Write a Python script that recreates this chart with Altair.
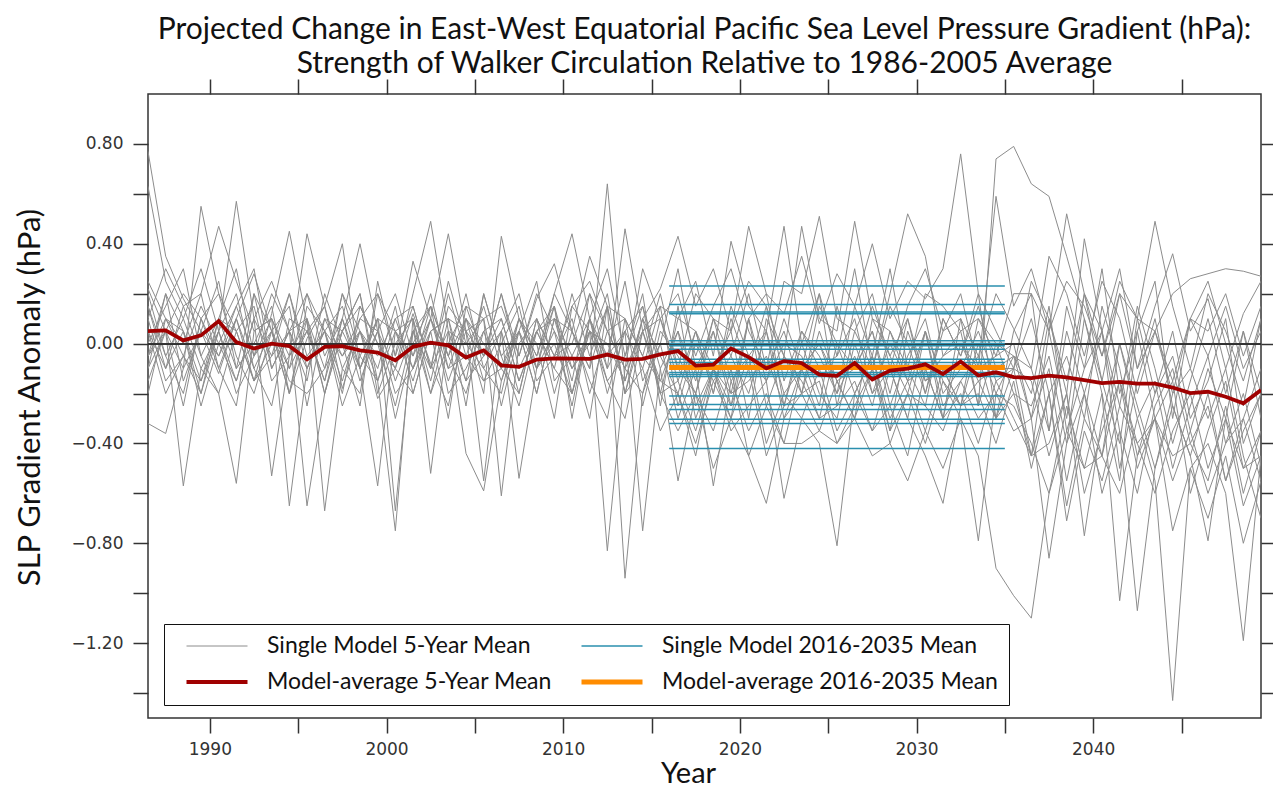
import altair as alt
import pandas as pd

FONT = "Lato"
TICK_FONT = "DejaVu Sans"

# ---------------- data ----------------
years = list(range(1986, 2050))  # 5-year running means, plotted at mid-year

model_avg = [
    0.050, 0.053, 0.013, 0.033, 0.090, 0.006, -0.020, 0.000, -0.010, -0.063,
    -0.013, -0.010, -0.027, -0.036, -0.067, -0.013, 0.004, -0.007, -0.056, -0.027,
    -0.087, -0.093, -0.064, -0.059, -0.060, -0.061, -0.044, -0.064, -0.061, -0.043,
    -0.030, -0.088, -0.084, -0.020, -0.054, -0.099, -0.070, -0.078, -0.124, -0.129,
    -0.078, -0.144, -0.108, -0.100, -0.083, -0.122, -0.072, -0.128, -0.115, -0.134,
    -0.138, -0.128, -0.135, -0.146, -0.158, -0.153, -0.160, -0.160, -0.176, -0.198,
    -0.193, -0.213, -0.239, -0.186,
]

m01 = [0.77, 0.35, 0.18, 0.05, -0.12, 0.10, 0.28, 0.05, -0.20, 0.02,
       0.15, -0.18, 0.05, -0.22, -0.10, 0.12, -0.08, -0.25, 0.10, -0.05,
       0.20, -0.05, 0.18, 0.32, 0.05, -0.10, 0.64, -0.15, 0.10, 0.22,
       0.43, 0.15, 0.30, 0.05, 0.47, 0.20, 0.12, 0.35, 0.08, 0.28,
       0.15, 0.40, 0.10, 0.25, 0.18, 0.30, 0.76, 0.20, 0.05, -0.10,
       0.25, 0.10, -0.15, 0.20, 0.05, 0.30, -0.10, 0.15, 0.36, 0.05,
       0.18, -0.10, 0.12, 0.25]
m02 = [0.63, 0.25, 0.10, 0.30, 0.05, 0.57, 0.10, -0.05, 0.20, -0.10,
       0.05, -0.20, 0.15, 0.00, -0.25, 0.05, 0.15, -0.20, -0.10, 0.05,
       -0.15, 0.10, -0.05, 0.20, 0.44, 0.10, -0.10, 0.46, 0.05, 0.15,
       0.10, 0.25, -0.05, 0.41, 0.15, 0.05, 0.47, 0.00, 0.20, -0.05,
       0.30, -0.10, 0.20, 0.52, 0.35, -0.05, 0.00, -0.10, 0.59, 0.15,
       0.30, 0.05, 0.52, 0.20, -0.05, 0.25, 0.10, 0.49, 0.15, -0.10,
       0.20, 0.05, -0.15, 0.10]
m03 = [0.22, 0.05, -0.10, 0.55, 0.20, 0.05, -0.15, 0.12, 0.45, 0.08,
       -0.20, 0.10, 0.40, 0.05, -0.10, 0.20, 0.49, 0.05, -0.15, -0.05,
       0.05, -0.20, 0.10, -0.05, 0.15, 0.25, 0.05, -0.10, 0.30, 0.10,
       0.20, -0.05, 0.15, 0.30, 0.05, -0.10, 0.25, 0.20, 0.51, 0.10,
       0.05, 0.20, -0.10, 0.15, 0.30, 0.05, 0.10, -0.05, 0.20, 0.06,
       -0.10, 0.35, 0.20, -0.05, 0.25, 0.10, -0.20, 0.05, 0.20, 0.26,
       0.28, 0.30, 0.29, 0.27]
m04 = [0.10, 0.30, 0.15, 0.20, 0.47, 0.25, 0.05, 0.10, -0.05, 0.44,
       0.15, 0.40, -0.10, 0.10, 0.05, -0.15, 0.10, 0.44, 0.05, -0.20,
       0.43, 0.10, -0.10, 0.20, 0.05, 0.35, 0.15, 0.10, -0.05, 0.20,
       -0.10, 0.20, 0.10, 0.05, 0.25, 0.15, -0.05, 0.47, 0.10, 0.05,
       0.49, 0.10, 0.05, -0.10, 0.20, 0.15, 0.05, 0.10, -0.05, 0.20,
       0.20, 0.05, 0.25, 0.15, -0.05, 0.20, 0.10, 0.05, -0.15, 0.10,
       0.05, 0.20, -0.05, 0.15]
m05 = [-0.05, 0.20, -0.15, 0.05, 0.25, -0.10, 0.00, 0.15, -0.20, 0.10,
       -0.10, 0.05, 0.20, -0.15, 0.05, 0.10, -0.20, 0.00, 0.15, -0.05,
       0.10, -0.15, 0.05, -0.10, 0.20, -0.05, 0.15, -0.20, 0.05, 0.10,
       -0.15, 0.05, -0.20, 0.10, -0.10, 0.15, -0.25, 0.05, -0.10, -0.05,
       0.10, -0.20, 0.00, -0.15, 0.05, -0.30, 0.10, -0.25, 0.74, 0.79,
       0.64, 0.59, 0.35, 0.10, -0.15, 0.20, -0.10, 0.05, -0.20, 0.10,
       -0.05, 0.15, -0.10, 0.05]
m06 = [0.15, -0.10, 0.05, -0.20, 0.10, 0.30, -0.05, 0.20, 0.05, -0.15,
       0.20, 0.00, -0.25, 0.25, -0.05, 0.33, 0.10, -0.10, -0.05, 0.15,
       -0.10, 0.05, 0.25, -0.15, -0.05, 0.10, 0.30, -0.05, 0.15, -0.10,
       0.05, -0.15, 0.10, -0.05, 0.20, -0.10, 0.05, -0.20, 0.15, 0.00,
       -0.10, 0.15, -0.05, 0.10, -0.20, 0.05, 0.20, -0.10, -0.05, 0.00,
       -0.30, 0.10, -0.20, 0.42, 0.05, -0.25, 0.15, -0.10, -0.40, -0.15,
       0.10, -0.20, 0.05, -0.30]
m07 = [-0.10, 0.05, 0.20, 0.10, -0.05, 0.15, 0.30, -0.10, 0.05, 0.20,
       -0.05, 0.10, -0.15, 0.05, -0.30, 0.00, 0.15, -0.05, 0.20, -0.10,
       0.05, 0.20, -0.10, 0.15, -0.20, 0.05, -0.05, 0.25, -0.15, 0.00,
       0.30, -0.10, 0.05, -0.25, 0.10, 0.20, -0.15, 0.05, -0.05, -0.20,
       0.15, -0.05, 0.30, -0.10, -0.25, 0.10, -0.05, 0.20, -0.30, 0.05,
       0.20, -0.35, 0.15, -0.10, 0.30, -0.20, 0.05, 0.25, -0.30, 0.10,
       0.25, 0.00, -0.25, 0.10]
m08 = [0.05, -0.20, -0.05, 0.15, 0.00, -0.15, 0.10, 0.25, 0.05, -0.10,
       0.10, -0.05, 0.05, -0.10, 0.15, -0.20, 0.05, 0.10, -0.15, 0.20,
       -0.05, -0.25, 0.05, 0.10, -0.15, 0.20, -0.10, 0.05, 0.15, -0.20,
       0.10, 0.05, -0.20, 0.15, -0.05, -0.15, 0.10, -0.10, 0.20, -0.25,
       0.05, -0.10, 0.15, 0.00, -0.20, 0.10, -0.05, 0.15, -0.10, -0.10,
       -0.45, 0.05, -0.30, 0.20, -0.15, -0.40, 0.10, -0.20, -0.05, -0.35,
       -0.10, -0.30, 0.05, -0.20]
m09 = [-0.32, -0.36, -0.10, 0.05, -0.05, 0.10, -0.15, 0.00, 0.20, -0.05,
       0.05, 0.15, -0.10, 0.05, 0.20, -0.05, 0.10, -0.15, 0.05, 0.10,
       0.15, -0.05, 0.20, 0.05, -0.10, 0.00, 0.20, -0.20, 0.10, -0.05,
       -0.20, 0.05, -0.10, -0.30, 0.10, -0.15, 0.00, -0.05, -0.25, 0.15,
       -0.10, 0.05, -0.20, 0.10, -0.15, -0.05, 0.05, -0.25, 0.00, -0.05,
       -0.20, 0.15, -0.35, -0.10, 0.05, -0.50, -0.15, 0.10, -0.25, -0.45,
       -0.20, -0.55, -0.30, -0.10]
m10 = [0.25, 0.10, -0.05, -0.15, 0.05, -0.20, -0.05, 0.10, -0.10, 0.05,
       -0.15, 0.20, 0.05, -0.05, 0.10, 0.15, -0.10, 0.20, -0.05, -0.15,
       0.00, 0.15, -0.15, -0.05, 0.10, -0.20, 0.05, 0.10, -0.25, 0.05,
       -0.05, -0.20, 0.10, -0.15, -0.05, 0.05, -0.20, -0.10, 0.00, -0.15,
       -0.10, 0.05, -0.25, -0.05, 0.10, -0.20, -0.10, 0.05, -0.15, -0.10,
       0.10, -0.20, -0.05, -0.30, 0.15, -0.10, -0.45, -0.20, 0.05, -0.30,
       -0.15, 0.10, -0.40, -0.20]
m11 = [0.00, 0.15, 0.30, -0.05, 0.10, -0.10, 0.20, 0.05, -0.20, 0.15,
       0.05, -0.25, -0.05, 0.10, -0.15, 0.05, -0.10, 0.25, 0.00, -0.10,
       -0.20, 0.10, 0.00, -0.30, 0.15, 0.05, -0.15, -0.05, 0.20, -0.25,
       0.15, -0.25, -0.10, 0.05, -0.30, 0.10, -0.05, -0.20, 0.05, -0.15,
       -0.30, 0.10, -0.05, -0.20, 0.05, -0.15, -0.25, 0.10, 0.00, -0.20,
       -0.25, -0.05, -0.40, 0.10, -0.20, -0.55, 0.05, -0.30, -0.15, -0.60,
       -0.35, -0.15, -0.50, -0.45]
m12 = [-0.15, 0.05, -0.25, 0.10, 0.20, -0.05, -0.20, 0.05, 0.15, -0.25,
       0.10, 0.05, 0.20, -0.20, 0.00, 0.10, -0.15, 0.15, 0.05, -0.05,
       0.20, -0.10, 0.05, 0.15, -0.30, 0.10, -0.05, 0.05, -0.10, 0.15,
       -0.25, 0.00, -0.15, -0.05, -0.20, 0.05, -0.30, -0.10, 0.00, -0.20,
       -0.05, -0.25, 0.05, -0.15, -0.10, -0.30, 0.00, -0.15, -0.10, -0.05,
       -0.10, -0.35, 0.05, -0.20, -0.45, 0.00, -0.30, -0.15, -0.50, -0.25,
       -0.05, -0.40, -0.20, -0.49]
m13 = [0.20, -0.05, 0.10, -0.10, -0.20, 0.05, 0.15, -0.15, -0.05, 0.10,
       -0.20, 0.05, 0.15, 0.00, -0.10, -0.20, 0.05, 0.10, -0.25, 0.20,
       -0.05, 0.05, -0.20, 0.10, 0.05, -0.15, -0.30, 0.10, -0.05, -0.15,
       0.05, -0.30, -0.10, -0.20, 0.10, -0.25, -0.05, -0.15, -0.30, 0.00,
       -0.20, -0.05, -0.35, 0.05, -0.15, -0.10, -0.25, 0.00, -0.20, -0.05,
       -0.30, -0.10, -0.55, -0.20, 0.05, -0.35, -0.60, -0.25, -0.10, -0.40,
       -0.55, -0.25, -0.60, -0.35]
m14 = [-0.20, 0.10, 0.00, 0.20, -0.10, 0.10, -0.10, -0.25, 0.10, 0.05,
       0.15, -0.10, -0.20, 0.20, 0.05, -0.05, 0.20, -0.10, 0.10, 0.00,
       -0.10, -0.20, 0.10, -0.05, 0.00, 0.20, 0.05, -0.10, -0.20, 0.10,
       -0.10, -0.20, 0.05, -0.20, -0.15, -0.05, -0.25, 0.00, -0.20, -0.30,
       0.00, -0.20, -0.10, -0.30, 0.05, -0.25, -0.15, -0.05, -0.30, -0.10,
       -0.15, -0.45, -0.20, -0.77, -0.30, 0.00, -0.25, -0.50, -0.20, -0.10,
       -0.30, -0.10, -0.45, -0.70]
m15 = [0.10, -0.15, -0.05, -0.20, 0.05, 0.20, -0.10, 0.05, -0.15, -0.20,
       -0.10, 0.20, -0.05, -0.15, 0.10, -0.10, 0.05, -0.30, 0.15, 0.10,
       -0.25, 0.05, -0.10, 0.00, -0.20, 0.10, -0.15, -0.30, 0.05, -0.20,
       -0.15, -0.35, -0.10, -0.25, -0.05, -0.40, -0.20, -0.30, -0.10, -0.35,
       -0.20, -0.05, -0.30, -0.15, -0.35, -0.10, -0.25, -0.20, -0.40, -0.15,
       -0.50, -0.20, -0.65, -0.30, -0.45, -0.15, -0.40, -0.60, -0.35, -0.20,
       -0.50, -0.30, -0.65, -0.45]
m16 = [-0.05, 0.05, -0.57, -0.10, 0.05, -0.15, 0.10, -0.53, -0.05, 0.05,
       -0.15, 0.10, -0.10, -0.57, 0.05, -0.10, 0.15, -0.05, -0.20, 0.05,
       0.10, -0.15, 0.05, -0.10, -0.20, 0.05, -0.83, -0.10, 0.05, -0.15,
       -0.20, -0.40, -0.15, -0.30, -0.10, -0.45, -0.25, -0.20, -0.35, -0.15,
       -0.30, -0.10, -0.40, -0.20, -0.25, -0.35, -0.15, -0.30, -0.20, -0.25,
       -0.40, -0.60, -0.25, -0.50, -0.20, -1.03, -0.45, -0.30, -0.55, -0.35,
       -0.60, -0.40, -0.30, -0.55]
m17 = [0.05, -0.10, 0.15, -0.05, -0.20, -0.56, 0.05, 0.10, -0.65, -0.10,
       0.05, -0.05, 0.10, 0.20, -0.05, 0.15, -0.10, 0.05, 0.00, 0.10,
       -0.61, 0.00, 0.10, -0.20, 0.05, -0.10, 0.15, -0.94, -0.20, 0.00,
       -0.30, -0.10, -0.57, -0.15, -0.35, -0.20, -0.40, -0.10, -0.30, -0.25,
       -0.15, -0.35, -0.25, -0.45, -0.10, -0.30, -0.20, -0.40, -0.15, -0.30,
       -0.45, -0.40, -0.20, -0.60, -0.35, -0.15, -0.50, -0.30, -0.45, -0.40,
       -0.25, -0.55, -0.35, -0.20]
m18 = [-0.10, 0.20, 0.05, -0.15, 0.10, 0.05, -0.15, -0.05, 0.05, -0.65,
       -0.20, 0.05, -0.10, 0.10, -0.67, 0.05, -0.20, 0.10, 0.05, -0.55,
       0.05, -0.54, -0.10, 0.05, -0.25, 0.10, -0.20, 0.05, -0.75, -0.10,
       -0.55, -0.20, -0.35, -0.10, -0.45, -0.64, -0.30, -0.20, -0.15, -0.40,
       -0.25, -0.10, -0.35, -0.20, -0.40, -0.15, -0.30, -0.79, -0.20, -0.35,
       -0.30, -0.86, -0.40, -0.20, -0.60, -0.35, -1.07, -0.50, -0.25, -0.45,
       -0.79, -0.30, -0.50, -0.35]
m19 = [0.15, -0.05, -0.20, 0.10, -0.10, -0.25, 0.20, -0.10, 0.05, 0.10,
       -0.67, -0.10, 0.05, -0.15, -0.75, 0.10, -0.52, 0.05, -0.44, -0.59,
       -0.15, 0.05, -0.20, 0.10, -0.05, -0.30, 0.15, -0.20, -0.10, -0.35,
       -0.20, -0.45, -0.10, -0.35, -0.25, -0.15, -0.62, -0.30, -0.40, -0.81,
       -0.20, -0.35, -0.10, -0.30, -0.45, -0.64, -0.25, -0.15, -0.30, -0.20,
       -0.45, -0.20, -0.71, -0.35, -0.55, -0.25, -0.40, -0.30, -0.75, -0.50,
       -0.40, -0.60, -1.19, -0.45]
m20 = [-0.05, 0.10, 0.05, -0.25, 0.00, 0.15, -0.05, 0.05, -0.10, 0.20,
       0.05, -0.15, 0.10, 0.05, -0.20, -0.10, 0.10, -0.05, 0.10, -0.15,
       -0.10, 0.10, -0.05, 0.15, -0.10, 0.05, 0.00, -0.15, 0.10, -0.20,
       -0.35, -0.20, -0.50, -0.30, -0.45, -0.25, -0.40, -0.40, -0.35, -0.40,
       -0.30, -0.45, -0.40, -0.55, -0.35, -0.50, -0.30, -0.45, -0.90, -1.01,
       -1.10, -0.60, -0.35, -0.50, -0.45, -0.60, -0.30, -0.55, -1.43, -0.50,
       -0.70, -0.45, -0.80, -0.55]

single_models = [m01, m02, m03, m04, m05, m06, m07, m08, m09, m10,
                 m11, m12, m13, m14, m15, m16, m17, m18, m19, m20]

# 2016-2035 means
period_start = 2016
period_end = 2035
single_period_means = [0.231, 0.157, 0.127, 0.120, 0.011, 0.000, -0.009, -0.023,
                       -0.063, -0.076, -0.088, -0.116, -0.124, -0.132, -0.210,
                       -0.244, -0.264, -0.303, -0.320, -0.420]
avg_period_mean = -0.096

x_ticks = [1990, 1995, 2000, 2005, 2010, 2015, 2020, 2025, 2030, 2035, 2040, 2045]
y_ticks = [-1.4, -1.2, -1.0, -0.8, -0.6, -0.4, -0.2, 0.0, 0.2, 0.4, 0.6, 0.8]

S1 = "Single Model 5-Year Mean"
S2 = "Single Model 2016-2035 Mean"
S3 = "Model-average 5-Year Mean"
S4 = "Model-average 2016-2035 Mean"
# legend fills column by column: left column S1, S3; right column S2, S4
series_order = [S1, S3, S2, S4]
series_colors = ["#8c8c8c", "#a00000", "#2a8fae", "#ff8c00"]
series_widths = [1.0, 3.8, 1.5, 5.0]

# ---------------- tables ----------------
rows = []
for i, vals in enumerate(single_models):
    for yr, v in zip(years, vals):
        rows.append({"model": f"M{i + 1:02d}", "year": yr, "value": v, "series": S1})
gray_df = pd.DataFrame(rows)
red_df = pd.DataFrame({"year": years, "value": model_avg, "series": S3})
blue_df = pd.DataFrame({"start": period_start, "end": period_end,
                        "value": single_period_means, "series": S2})
orange_df = pd.DataFrame({"start": [period_start], "end": [period_end],
                          "value": [avg_period_mean], "series": [S4]})

# ---------------- encodings ----------------
xs = alt.Scale(domain=[1986.5, 2049.5], nice=False, zero=False)
ys = alt.Scale(domain=[-1.5, 1.0], nice=False, zero=False)

legend = alt.Legend(
    title=None, orient="none", legendX=16, legendY=530, columns=2,
    symbolType="stroke", symbolSize=3721, clipHeight=22,
    rowPadding=13, columnPadding=18, labelFontSize=23, labelFont=FONT,
    labelColor="#111", labelOffset=17, labelLimit=600, padding=11,
    symbolOffset=9, strokeColor="#111", fillColor="#ffffff",
)
color_enc = alt.Color("series:N", scale=alt.Scale(domain=series_order, range=series_colors),
                      legend=legend)
width_enc = alt.StrokeWidth("series:N",
                            scale=alt.Scale(type="ordinal", domain=series_order, range=series_widths),
                            legend=legend)

tick_common = dict(tickSize=15, tickWidth=1.5, tickColor="#333", domain=False, grid=False)

x_bottom = alt.Axis(orient="bottom", values=x_ticks, format="d",
                    labelExpr="datum.value % 10 == 0 ? datum.label : ''",
                    labelFontSize=17, labelFont=TICK_FONT, labelColor="#333", labelPadding=8,
                    title="Year", titleFontSize=29, titleFont=FONT, titleFontWeight="normal",
                    titleColor="#111", titleX=540, titleY=55, titleBaseline="middle",
                    titleAlign="center", **tick_common)
x_top = alt.Axis(orient="top", values=x_ticks, labels=False, title=None, **tick_common)
y_left = alt.Axis(orient="left", values=y_ticks, format=".2f",
                  labelExpr="round(datum.value * 10) % 4 == 0 ? datum.label : ''",
                  labelFontSize=17, labelFont=TICK_FONT, labelColor="#333", labelPadding=10,
                  title="SLP Gradient Anomaly (hPa)", titleFontSize=31, titleFont=FONT,
                  titleFontWeight="normal", titleColor="#111",
                  titleX=-118, titleY=303, titleBaseline="middle", titleAlign="center",
                  **tick_common)
y_right = alt.Axis(orient="right", values=y_ticks, labels=False, title=None, **tick_common)

gray = alt.Chart(gray_df).transform_calculate(mid="datum.year + 0.5").mark_line(
    clip=True, strokeJoin="miter").encode(
    x=alt.X("mid:Q", scale=xs, axis=x_bottom),
    y=alt.Y("value:Q", scale=ys, axis=y_left),
    detail="model:N",
    color=color_enc,
    strokeWidth=width_enc,
)

zero = alt.Chart(red_df).mark_rule(color="#333", strokeWidth=1.2).encode(
    y=alt.Y(datum=0, scale=ys, axis=None),
)

blue = alt.Chart(blue_df).mark_rule().encode(
    x=alt.X("start:Q", scale=xs, axis=x_top),
    x2="end:Q",
    y=alt.Y("value:Q", scale=ys, axis=y_right),
    color=color_enc,
    strokeWidth=width_enc,
)

orange = alt.Chart(orange_df).mark_rule().encode(
    x=alt.X("start:Q", scale=xs, axis=None),
    x2="end:Q",
    y=alt.Y("value:Q", scale=ys, axis=None),
    color=color_enc,
    strokeWidth=width_enc,
)

red = alt.Chart(red_df).transform_calculate(mid="datum.year + 0.5").mark_line(
    clip=True).encode(
    x=alt.X("mid:Q", scale=xs, axis=None),
    y=alt.Y("value:Q", scale=ys, axis=None),
    color=color_enc,
    strokeWidth=width_enc,
)

chart = alt.layer(gray, zero, blue, orange, red).properties(
    width=1113, height=624,
    title=alt.TitleParams(
        text=["Projected Change in East-West Equatorial Pacific Sea Level Pressure Gradient (hPa):",
              "Strength of Walker Circulation Relative to 1986-2005 Average"],
        fontSize=30, font=FONT, fontWeight="normal", color="#111",
        anchor="middle", frame="group", offset=1, dy=2, lineHeight=34,
    ),
    autosize=alt.AutoSizeParams(type="none"),
    padding={"left": 140, "top": 86, "right": 12, "bottom": 72},
).configure_view(stroke="#333", strokeWidth=1.5)

chart.save("out.html", embed_options={"renderer": "svg", "actions": False})
